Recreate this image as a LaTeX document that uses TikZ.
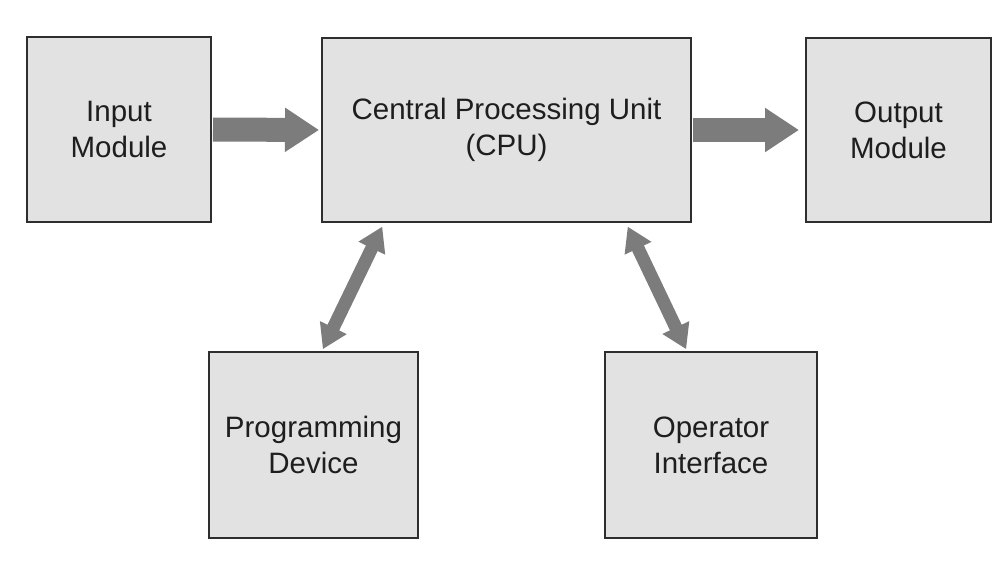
\documentclass[tikz,border=0pt]{standalone}
\usepackage{fontspec}
\setmainfont{Liberation Sans}
\usetikzlibrary{arrows.meta,calc}
\definecolor{boxfill}{HTML}{E2E2E2}
\definecolor{boxline}{HTML}{2E2E2E}
\definecolor{arrowgray}{HTML}{7C7C7C}
\definecolor{txt}{HTML}{1E1E1E}
\tikzset{
  blockbox/.style={draw=boxline, line width=2pt, fill=boxfill, align=center, text=txt,
    font=\fontsize{29.5}{36}\selectfont, inner sep=0pt},
  bigarrow/.style={draw=arrowgray, line width=24pt, -{Triangle[length=34pt,width=42pt]}},
  dblarrow/.style={draw=arrowgray, line width=13pt, {Triangle[length=24pt,width=28pt]}-{Triangle[length=24pt,width=28pt]}},
}
\begin{document}
\begin{tikzpicture}[x=1pt,y=-1pt]
\useasboundingbox (0,0) rectangle (999,567);
\fill[white] (0,0) rectangle (999,567);
\node[blockbox, minimum width=184pt, minimum height=185pt] (in) at (119,129.5) {Input\\Module};
\node[blockbox, minimum width=369pt, minimum height=184pt] (cpu) at (506.5,130) {Central Processing Unit\\(CPU)};
\node[blockbox, minimum width=185pt, minimum height=184pt] (out) at (898.5,130) {Output\\Module};
\node[blockbox, minimum width=209pt, minimum height=186pt] (prog) at (313.5,445) {Programming\\Device};
\node[blockbox, minimum width=212pt, minimum height=186pt] (op) at (711,445) {Operator\\Interface};
\draw[bigarrow, shorten <=1pt, shorten >=2pt] (in.east) -- (cpu.west);
\draw[bigarrow, shorten <=1pt, shorten >=6pt] (cpu.east) -- (out.west);
\draw[dblarrow, shorten <=4pt, shorten >=2pt] ($(cpu.south west)+(63,0)$) -- ($(prog.north west)+(114,0)$);
\draw[dblarrow, shorten <=4pt, shorten >=2pt] ($(cpu.south east)+(-66,0)$) -- ($(op.north west)+(83,0)$);
\end{tikzpicture}
\end{document}
